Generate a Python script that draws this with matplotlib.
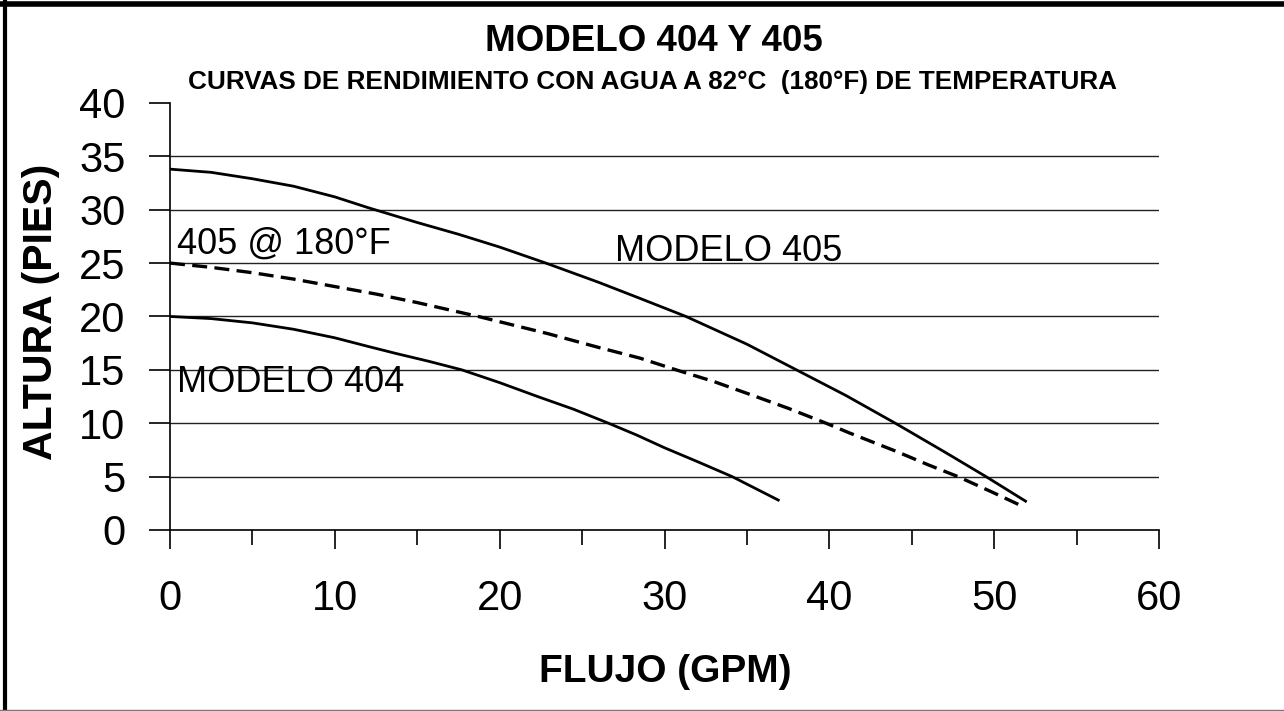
import matplotlib.pyplot as plt
from matplotlib.lines import Line2D
from matplotlib.ticker import MultipleLocator

plt.rcParams['font.family'] = ['Liberation Sans', 'DejaVu Sans']

# curvas (flujo GPM, altura pies)
flujo_405 = [0, 2.5, 5, 7.5, 10, 12, 15, 17.5, 20, 22.8, 26, 28.5, 31.3,
             35, 38, 41, 44, 47, 49.5, 51.9]
altura_405 = [33.8, 33.5, 32.9, 32.2, 31.2, 30.2, 28.8, 27.7, 26.5, 25.0,
              23.2, 21.7, 20.0, 17.4, 15.0, 12.6, 10.0, 7.3, 5.0, 2.7]

flujo_405_180 = [0, 2.5, 5, 7.5, 10, 12.5, 15, 18.7, 22.9, 26, 28.5, 30.7,
                 33, 35, 37.5, 39.8, 41.2, 44, 46, 47.8, 49.8, 51.6]
altura_405_180 = [25.0, 24.6, 24.1, 23.5, 22.8, 22.1, 21.3, 20.0, 18.4, 17.1,
                  16.1, 15.0, 13.9, 12.8, 11.4, 10.0, 9.1, 7.4, 6.1, 5.0,
                  3.6, 2.3]

flujo_404 = [0, 2.5, 5, 7.5, 10, 12, 13.8, 15.7, 17.7, 20, 22.3, 24.5, 26.6,
             28.3, 30, 32, 34.1, 35.5, 36.9]
altura_404 = [20.0, 19.8, 19.4, 18.8, 18.0, 17.2, 16.5, 15.8, 15.0, 13.8,
              12.5, 11.3, 10.0, 8.9, 7.7, 6.4, 5.0, 3.9, 2.8]

x_ticks = [0, 10, 20, 30, 40, 50, 60]
y_ticks = [0, 5, 10, 15, 20, 25, 30, 35, 40]
grid_y = [5, 10, 15, 20, 25, 30, 35]

fig = plt.figure(figsize=(12.84, 7.11), dpi=100)
ax = fig.add_axes([0.1324, 0.2546, 0.7703, 0.6006])

ax.hlines(grid_y, 0, 60, colors='#222222', linewidth=1.0, zorder=1)

ax.plot(flujo_405, altura_405, color='black', linewidth=2.0,
        solid_joinstyle='round', zorder=3)
ax.plot(flujo_405_180, altura_405_180, color='black', linewidth=2.4,
        dashes=(4.5, 2.2), zorder=3)
ax.plot(flujo_404, altura_404, color='black', linewidth=2.0,
        solid_joinstyle='round', zorder=3)

ax.text(0.4, 25.9, '405 @ 180°F', fontsize=26, va='baseline', ha='left')
ax.text(27.0, 25.2, 'MODELO 405', fontsize=26, va='baseline', ha='left')
ax.text(0.4, 12.9, 'MODELO 404', fontsize=26, va='baseline', ha='left')

ax.set_xlim(0, 60)
ax.set_ylim(0, 40)
ax.set_xticks(x_ticks)
ax.set_yticks(y_ticks)
ax.xaxis.set_minor_locator(MultipleLocator(5))
ax.tick_params(axis='x', which='major', direction='out', length=14, width=1.2,
               labelsize=30, pad=21)
ax.tick_params(axis='x', which='minor', direction='out', length=11, width=1.2)
ax.tick_params(axis='y', direction='out', length=15, width=1.2,
               labelsize=30, pad=17)

for s in ['top', 'right']:
    ax.spines[s].set_visible(False)
for s in ['left', 'bottom']:
    ax.spines[s].set_linewidth(1.2)
ax.spines['left'].set_zorder(4)

fig.text(0.509, 0.941, 'MODELO 404 Y 405', fontsize=26.5, fontweight='bold',
         ha='center', va='center')
fig.text(0.508, 0.884, 'CURVAS DE RENDIMIENTO CON AGUA A 82°C  (180°F) DE TEMPERATURA',
         fontsize=18.8, fontweight='bold', ha='center', va='center')
fig.text(0.518, 0.055, 'FLUJO (GPM)', fontsize=28, fontweight='bold',
         ha='center', va='center')
fig.text(0.032, 0.562, 'ALTURA (PIES)', fontsize=29.5, fontweight='bold',
         ha='center', va='center', rotation=90)

# marco de la figura
fig.add_artist(Line2D([0, 1], [0.995, 0.995], color='black', linewidth=4))
fig.add_artist(Line2D([0.004, 0.004], [0, 1], color='black', linewidth=3))
fig.add_artist(Line2D([0, 1], [0.002, 0.002], color='#777777', linewidth=1))

fig.savefig('out.png', dpi=100)
